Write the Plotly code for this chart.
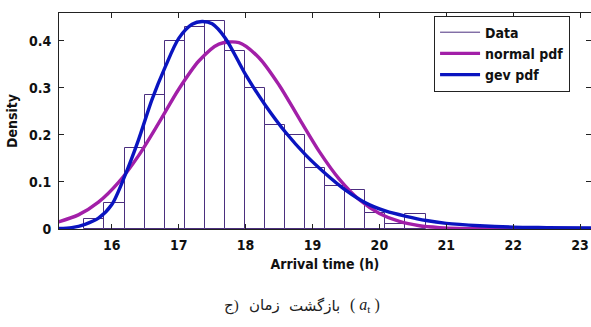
import plotly.graph_objects as go

# Histogram (density) - bin left edges and heights
bin_left = [15.59, 15.89, 16.19, 16.49, 16.79, 17.09, 17.39, 17.69, 17.99,
            18.29, 18.59, 18.89, 19.19, 19.49, 19.79, 20.09, 20.39]
bin_width = 0.3
density = [0.022, 0.056, 0.173, 0.285, 0.400, 0.430, 0.441, 0.379, 0.299,
           0.220, 0.200, 0.129, 0.092, 0.083, 0.034, 0.010, 0.031]

# normal pdf curve
normal_x = [15.2, 15.5, 15.8, 16.1, 16.4, 16.7, 17.0, 17.3, 17.6, 17.9, 18.2,
            18.5, 18.8, 19.1, 19.4, 19.7, 20.0, 20.3, 20.6, 20.9, 21.2, 21.5,
            22.0, 22.5, 23.2]
normal_y = [0.015, 0.030, 0.057, 0.099, 0.156, 0.225, 0.297, 0.357, 0.393,
            0.396, 0.364, 0.306, 0.235, 0.165, 0.106, 0.062, 0.033, 0.016,
            0.007, 0.003, 0.001, 0.0004, 0.0001, 0.0, 0.0]

# gev pdf curve
gev_x = [15.2, 15.4, 15.6, 15.8, 16.0, 16.2, 16.4, 16.6, 16.8, 17.0, 17.2,
         17.35, 17.5, 17.7, 18.0, 18.3, 18.6, 18.9, 19.2, 19.5, 19.8, 20.1,
         20.4, 20.7, 21.0, 21.5, 22.0, 22.5, 23.2]
gev_y = [0.001, 0.003, 0.010, 0.023, 0.052, 0.115, 0.190, 0.275, 0.345,
         0.405, 0.435, 0.441, 0.436, 0.405, 0.328, 0.262, 0.205, 0.157,
         0.117, 0.082, 0.055, 0.038, 0.027, 0.018, 0.012, 0.007, 0.004,
         0.003, 0.002]

x_ticks = [16, 17, 18, 19, 20, 21, 22, 23]
y_ticks = [0, 0.1, 0.2, 0.3, 0.4]
y_ticktext = ["0", "0.1", "0.2", "0.3", "0.4"]

# caption pieces, left to right as they appear
caption_words = ["ج)", "زمان", "بازگشت", "( <i>a</i><sub>t</sub> )"]

BAR_COLOR = "#4b2f7f"
NORMAL_COLOR = "#a21fa8"
GEV_COLOR = "#0a14c0"
FONT = "Liberation Sans Narrow, DejaVu Sans Condensed, Roboto Condensed, Arial Narrow, sans-serif"

bar_centers = [b + bin_width / 2 for b in bin_left]

fig = go.Figure()
fig.add_trace(go.Bar(
    x=bar_centers, y=density, width=[bin_width] * len(density),
    marker=dict(color="white", line=dict(color=BAR_COLOR, width=1)),
    showlegend=False, name="Data"))
fig.add_trace(go.Scatter(
    x=[None], y=[None], mode="lines", name="<b>Data</b>",
    line=dict(color=BAR_COLOR, width=1)))
fig.add_trace(go.Scatter(
    x=normal_x, y=normal_y, mode="lines", name="<b>normal pdf</b>",
    line=dict(color=NORMAL_COLOR, width=3.4, shape="spline", smoothing=0.8)))
fig.add_trace(go.Scatter(
    x=gev_x, y=gev_y, mode="lines", name="<b>gev pdf</b>",
    line=dict(color=GEV_COLOR, width=3.4, shape="spline", smoothing=0.8)))

axis_common = dict(
    showline=True, linecolor="#222", linewidth=1, mirror="ticks",
    ticks="inside", ticklen=5, tickcolor="#222", showgrid=False,
    zeroline=False,
    tickfont=dict(family=FONT, size=14, color="#111"),
)

fig.update_layout(
    width=591, height=327,
    margin=dict(l=59, r=0, t=13, b=98),
    paper_bgcolor="white", plot_bgcolor="white",
    bargap=0,
    font=dict(family=FONT, color="#111"),
    xaxis=dict(range=[15.21, 23.164], tickvals=x_ticks,
               ticktext=["<b>%d</b>" % t for t in x_ticks],
               ticklabelstandoff=3,
               title=dict(text="<b>Arrival time (h)</b>",
                          font=dict(family=FONT, size=14, color="#111"),
                          standoff=7),
               **axis_common),
    yaxis=dict(range=[0, 0.459], tickvals=y_ticks,
               ticktext=["<b>%s</b>" % t for t in y_ticktext],
               title=dict(text="<b>Density</b>",
                          font=dict(family=FONT, size=14, color="#111"),
                          standoff=7),
               ticklabelstandoff=4,
               **axis_common),
    legend=dict(x=0.705, y=0.988, xanchor="left", yanchor="top",
                bgcolor="white", bordercolor="#222", borderwidth=1,
                font=dict(family=FONT, size=14, color="#111"),
                tracegroupgap=0, itemwidth=40),
    showlegend=True,
)

cap_font = dict(family="Liberation Serif, DejaVu Sans, serif", size=15,
                color="#222")
cap_y = -0.356
fig.add_annotation(text=caption_words[0], xref="paper", yref="paper",
                   x=(241 - 59) / 532, y=cap_y, xanchor="right",
                   yanchor="middle", showarrow=False, font=cap_font)
fig.add_annotation(text=caption_words[1], xref="paper", yref="paper",
                   x=(282 - 59) / 532, y=cap_y, xanchor="right",
                   yanchor="middle", showarrow=False, font=cap_font)
fig.add_annotation(text=caption_words[2], xref="paper", yref="paper",
                   x=(287 - 59) / 532, y=cap_y, xanchor="left",
                   yanchor="middle", showarrow=False, font=cap_font)
fig.add_annotation(text=caption_words[3], xref="paper", yref="paper",
                   x=(382 - 59) / 532, y=cap_y, xanchor="right",
                   yanchor="middle", showarrow=False,
                   font=dict(family="Liberation Serif, serif", size=16,
                             color="#222"))

fig.write_html("out.html",
               config={"displayModeBar": False},
               post_script="document.body.style.margin='0';")
